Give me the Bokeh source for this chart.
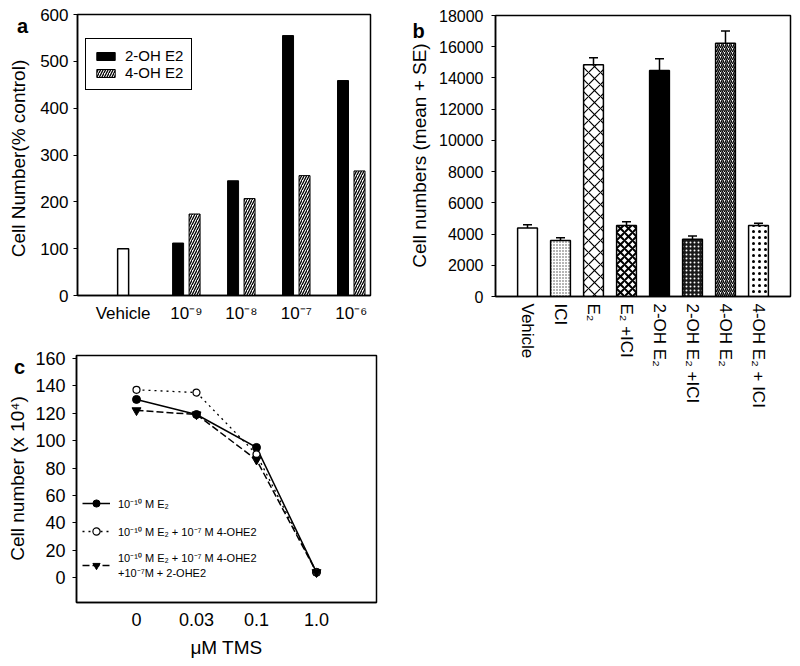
import math
from bokeh.plotting import figure
from bokeh.models import (Range1d, FactorRange, FixedTicker, Legend, LegendItem,
                          Whisker, ColumnDataSource, TeeHead)
from bokeh.layouts import row, column
from bokeh.core.properties import value
from bokeh.embed import file_html
from bokeh.resources import INLINE

FONT = "Liberation Sans"

# ---------------- data ----------------
# panel a
a_doses = ["Vehicle", "10⁻⁹", "10⁻⁸", "10⁻⁷", "10⁻⁶"]
a_vehicle = [100]
a_2oh = [112, 245, 555, 459]
a_4oh = [174, 207, 256, 266]
a_series = ["2-OH E2", "4-OH E2"]
a_yticks = [0, 100, 200, 300, 400, 500, 600]
a_ylabel = "Cell Number(% control)"

# panel b
b_groups = ["Vehicle", "ICI", "E₂", "E₂ +ICI", "2-OH E₂", "2-OH E₂ +ICI", "4-OH E₂", "4-OH E₂ + ICI"]
b_means = [4380, 3590, 14840, 4550, 14480, 3670, 16230, 4550]
b_se = [210, 170, 450, 235, 750, 210, 770, 150]
b_yticks = [0, 2000, 4000, 6000, 8000, 10000, 12000, 14000, 16000, 18000]
b_ylabel = "Cell numbers (mean + SE)"

# panel c
c_doses = ["0", "0.03", "0.1", "1.0"]
c_e2 = [130, 119, 95, 4]
c_e2_4oh = [137, 135, 90, 4]
c_e2_4oh_2oh = [122, 119, 86, 4]
c_labels = ["10⁻¹⁰ M E₂",
            "10⁻¹⁰ M E₂ + 10⁻⁷ M 4-OHE2",
            "10⁻¹⁰ M E₂ + 10⁻⁷ M 4-OHE2\n+10⁻⁷M + 2-OHE2"]
c_yticks = [0, 20, 40, 60, 80, 100, 120, 140, 160]
c_ylabel = "Cell number (x 10⁴)"
c_xlabel = "μM TMS"

panel_letters = ["a", "b", "c"]

STRIP_W = 32


def style(p, tick_size="17px", label_size="19px"):
    for ax in list(p.xaxis) + list(p.yaxis):
        ax.axis_line_color = "black"
        ax.axis_line_width = 1.5
        ax.major_tick_line_color = "black"
        ax.major_tick_line_width = 1.2
        ax.major_tick_in = 0
        ax.major_tick_out = 4
        ax.minor_tick_line_color = None
        ax.major_label_text_font = FONT
        ax.major_label_text_font_size = tick_size
        ax.major_label_text_color = "black"
        ax.axis_label_text_font = FONT
        ax.axis_label_text_font_size = label_size
        ax.axis_label_text_font_style = "normal"
        ax.axis_label_text_color = "black"
    p.xaxis.major_tick_out = 0
    p.grid.visible = False
    p.outline_line_color = "black"
    p.outline_line_width = 1.5
    p.outline_line_alpha = 1.0


def strip(height, mb_top, mb_bottom, letter, letter_pos, ylabel, ylabel_pos):
    """Narrow side strip holding the panel letter and the rotated y-axis title.
    Its borders match the neighbouring panel; y is measured in pixels from the top."""
    s = figure(width=STRIP_W, height=height, x_range=Range1d(0, STRIP_W),
               y_range=Range1d(height - mb_bottom, mb_top),
               output_backend="svg", toolbar_location=None, x_axis_location=None,
               y_axis_location=None, min_border_left=0, min_border_right=0,
               min_border_top=mb_top, min_border_bottom=mb_bottom)
    s.outline_line_color = None
    s.grid.visible = False
    s.text(x=[letter_pos[0]], y=[letter_pos[1]], text=[letter], text_font=value(FONT),
           text_font_style="bold", text_font_size="20px", text_align="center",
           text_baseline="alphabetic", text_color="black")
    s.text(x=[ylabel_pos[0]], y=[ylabel_pos[1]], text=[ylabel], angle=math.pi / 2,
           text_font=value(FONT), text_font_size="19px", text_align="center",
           text_baseline="middle", text_color="black")
    return s


# ---------------- panel a ----------------
a_idx = list(range(len(a_doses)))
pa = figure(width=400 - STRIP_W, height=330, x_range=Range1d(-0.98, 4.35), y_range=Range1d(0, 600),
            output_backend="svg", toolbar_location=None,
            min_border_left=77 - STRIP_W, min_border_right=30, min_border_top=14, min_border_bottom=35)
off = 0.15
bw = 0.2
pa.vbar(x=[a_idx[0] - off], top=a_vehicle, width=bw, bottom=0,
        fill_color="white", line_color="black", line_width=1.5)
r2 = pa.vbar(x=[i - off for i in a_idx[1:]], top=a_2oh, width=bw, bottom=0,
             fill_color="black", line_color="black", line_width=1)
r4 = pa.vbar(x=[i + off for i in a_idx[1:]], top=a_4oh, width=bw, bottom=0,
             fill_color="white", line_color="black", line_width=1,
             hatch_pattern="/", hatch_scale=5, hatch_weight=1.3, hatch_color="black")
pa.yaxis.ticker = FixedTicker(ticks=a_yticks)
a_ticks = [a_idx[0] - off] + a_idx[1:]
pa.xaxis.ticker = FixedTicker(ticks=a_ticks)
pa.xaxis.major_label_overrides = {t: lab for t, lab in zip(a_ticks, a_doses)}
style(pa)
pa.xaxis.major_label_standoff = 8
pa.yaxis.major_label_standoff = 5
leg_a = Legend(items=[LegendItem(label=a_series[0], renderers=[r2]),
                      LegendItem(label=a_series[1], renderers=[r4])],
               location=(8, 205), orientation="vertical",
               border_line_color="black", border_line_width=1.5, border_line_alpha=1,
               background_fill_color="white", background_fill_alpha=1,
               padding=8, spacing=0, margin=0, glyph_width=23, glyph_height=10,
               label_height=16, label_standoff=8,
               label_text_font=FONT, label_text_font_size="15px", label_text_color="black")
pa.add_layout(leg_a)
sa = strip(330, 14, 35, panel_letters[0], (22, 25), a_ylabel, (18, 158))

# ---------------- panel b ----------------
b_fill = ["white", "white", "white", "white", "black", "#1a1a1a", "white", "white"]
b_hatch = [" ", ".", "x", "x", " ", ".", "/", "."]
b_hscale = [6, 3, 12, 8, 6, 4, 4, 6]
b_hweight = [1, 1, 1.2, 2, 1, 1.2, 1.4, 2]
b_hcolor = ["black", "#444444", "black", "black", "black", "white", "black", "black"]
src_b = ColumnDataSource(dict(x=b_groups, top=b_means,
                              upper=[m + s for m, s in zip(b_means, b_se)],
                              fill=b_fill, hatch=b_hatch, hscale=b_hscale,
                              hweight=b_hweight, hcolor=b_hcolor))
pb = figure(width=400 - STRIP_W, height=410,
            x_range=FactorRange(factors=b_groups, range_padding=0.47, range_padding_units="absolute"),
            y_range=Range1d(0, 18000),
            output_backend="svg", toolbar_location=None,
            min_border_left=95 - STRIP_W, min_border_right=10, min_border_top=15, min_border_bottom=114)
pb.vbar(x="x", top="top", width=0.6, bottom=0, source=src_b,
        fill_color="fill", line_color="black", line_width=1.5,
        hatch_pattern="hatch", hatch_scale="hscale", hatch_weight="hweight", hatch_color="hcolor")
pb.add_layout(Whisker(base="x", lower="top", upper="upper", source=src_b, dimension="height",
                      line_color="black", line_width=1.5,
                      upper_head=TeeHead(size=9, line_color="black", line_width=1.5),
                      lower_head=None))
pb.yaxis.ticker = FixedTicker(ticks=b_yticks)
style(pb, tick_size="16px")
pb.xaxis.major_label_text_font_size = "17px"
pb.xaxis.major_label_orientation = "vertical"
pb.xaxis.major_label_standoff = 7
pb.yaxis.major_label_standoff = 8
sb = strip(410, 15, 114, panel_letters[1], (18, 30), b_ylabel, (19, 155))

# ---------------- panel c ----------------
pc = figure(width=400 - STRIP_W, height=336,
            x_range=FactorRange(factors=c_doses, range_padding=0.5, range_padding_units="absolute"),
            y_range=Range1d(-18, 162),
            output_backend="svg", toolbar_location=None,
            min_border_left=76 - STRIP_W, min_border_right=24, min_border_top=25, min_border_bottom=64)
l1 = pc.line(c_doses, c_e2, line_color="black", line_width=1.5)
m1 = pc.scatter(c_doses, c_e2, marker="circle", size=8, fill_color="black", line_color="black")
l2 = pc.line(c_doses, c_e2_4oh, line_color="black", line_width=1.3, line_dash="2 4")
m2 = pc.scatter(c_doses, c_e2_4oh, marker="circle", size=7, fill_color="white", line_color="black",
                line_width=1.2)
l3 = pc.line(c_doses, c_e2_4oh_2oh, line_color="black", line_width=1.5, line_dash="7 3")
m3 = pc.scatter(c_doses, c_e2_4oh_2oh, marker="inverted_triangle", size=9, fill_color="black",
                line_color="black")
pc.yaxis.ticker = FixedTicker(ticks=c_yticks)
pc.xaxis.axis_label = c_xlabel
style(pc, tick_size="18px")
pc.xaxis.major_label_standoff = 10
pc.xaxis.axis_label_standoff = 8
pc.yaxis.major_label_standoff = 7
leg_c = Legend(items=[LegendItem(label=c_labels[0], renderers=[l1, m1]),
                      LegendItem(label=c_labels[1], renderers=[l2, m2]),
                      LegendItem(label=c_labels[2], renderers=[l3, m3])],
               location=(6, 22), orientation="vertical",
               border_line_color=None, background_fill_alpha=0,
               padding=2, spacing=10, margin=0, glyph_width=28, glyph_height=18,
               label_height=18, label_standoff=8,
               label_text_font=FONT, label_text_font_size="11px", label_text_color="black")
pc.add_layout(leg_c)
sc = strip(336, 25, 64, panel_letters[2], (19, 36), c_ylabel, (17, 148))

layout = row(column(row(sa, pa), row(sc, pc)), row(sb, pb))
open("out.html", "w").write(file_html(layout, INLINE))
